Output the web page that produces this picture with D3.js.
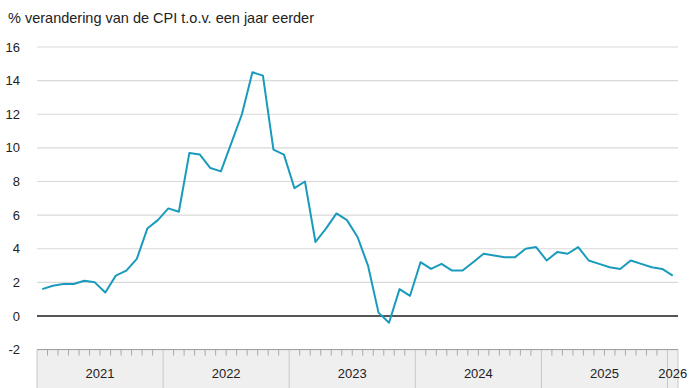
<!DOCTYPE html>
<html><head><meta charset="utf-8">
<script src="https://cdn.jsdelivr.net/npm/d3@7"></script>
<style>body{margin:0;background:#fff}svg{display:block}text{font-family:"Liberation Sans",Arial,sans-serif}</style>
</head><body><svg id="c" width="690" height="388"></svg>
<script>
const title = "% verandering van de CPI t.o.v. een jaar eerder";
const years = [2021, 2022, 2023, 2024, 2025, 2026];
const yTicks = [-2, 0, 2, 4, 6, 8, 10, 12, 14, 16];
const cpi2021 = [1.6, 1.8, 1.9, 1.9, 2.1, 2.0, 1.4, 2.4, 2.7, 3.4, 5.2, 5.7];
const cpi2022 = [6.4, 6.2, 9.7, 9.6, 8.8, 8.6, 10.3, 12.0, 14.5, 14.3, 9.9, 9.6];
const cpi2023 = [7.6, 8.0, 4.4, 5.2, 6.1, 5.7, 4.7, 3.0, 0.2, -0.4, 1.6, 1.2];
const cpi2024 = [3.2, 2.8, 3.1, 2.7, 2.7, 3.2, 3.7, 3.6, 3.5, 3.5, 4.0, 4.1];
const cpi2025 = [3.3, 3.8, 3.7, 4.1, 3.3, 3.1, 2.9, 2.8, 3.3, 3.1, 2.9, 2.8];
const cpi2026 = [2.4];

const values = [...cpi2021, ...cpi2022, ...cpi2023, ...cpi2024, ...cpi2025, ...cpi2026];
const nMonths = values.length;

const svg = d3.select("#c");
const plotLeft = 37, plotRight = 678;
const x = d3.scaleLinear().domain([0, nMonths]).range([plotLeft, plotRight]);
const y = d3.scaleLinear().domain([-2, 16]).range([349.6, 47]);

svg.append("text").attr("x", 8).attr("y", 23).attr("font-size", 14.5).attr("fill", "#222").text(title);

// grid
svg.append("g").selectAll("line").data(yTicks.filter(d => d > 0)).join("line")
  .attr("x1", plotLeft).attr("x2", plotRight).attr("y1", d => y(d)).attr("y2", d => y(d))
  .attr("stroke", "#d9d9d9").attr("stroke-width", 1.2);

svg.append("g").selectAll("text").data(yTicks).join("text")
  .attr("x", 20).attr("y", d => y(d)).attr("dy", "0.35em").attr("text-anchor", "end")
  .attr("font-size", 13).attr("fill", "#222").text(d => d);

// axis band
const bandTop = y(-2);
svg.append("rect").attr("x", plotLeft).attr("y", bandTop).attr("width", plotRight - plotLeft).attr("height", 388 - bandTop)
  .attr("fill", "#efefef");
const months = d3.range(1, nMonths).filter(i => i % 12 !== 0);
svg.append("g").selectAll("line").data(months).join("line")
  .attr("x1", d => x(d)).attr("x2", d => x(d)).attr("y1", bandTop).attr("y2", bandTop + 6)
  .attr("stroke", "#aaa").attr("stroke-width", 1);
const yearBounds = d3.range(0, nMonths + 1, 12).concat([nMonths]);
svg.append("g").selectAll("line").data(yearBounds).join("line")
  .attr("x1", d => x(d)).attr("x2", d => x(d)).attr("y1", bandTop).attr("y2", 388)
  .attr("stroke", "#c8c8c8").attr("stroke-width", 1);
svg.append("line").attr("x1", plotLeft).attr("x2", plotRight).attr("y1", bandTop).attr("y2", bandTop)
  .attr("stroke", "#999").attr("stroke-width", 1);
svg.append("g").selectAll("text").data(years).join("text")
  .attr("x", (d, i) => { const s = i * 12, e = Math.min(s + 12, nMonths); return (x(s) + x(e)) / 2; })
  .attr("y", 378).attr("text-anchor", "middle").attr("font-size", 13).attr("fill", "#222").text(d => d);

// zero line
svg.append("line").attr("x1", plotLeft).attr("x2", plotRight).attr("y1", y(0)).attr("y2", y(0))
  .attr("stroke", "#555").attr("stroke-width", 2);

// series
const line = d3.line().x((d, i) => x(i + 0.5)).y(d => y(d));
svg.append("path").datum(values).attr("d", line).attr("fill", "none")
  .attr("stroke", "#1a9bbd").attr("stroke-width", 2).attr("stroke-linejoin", "round");
</script></body></html>
